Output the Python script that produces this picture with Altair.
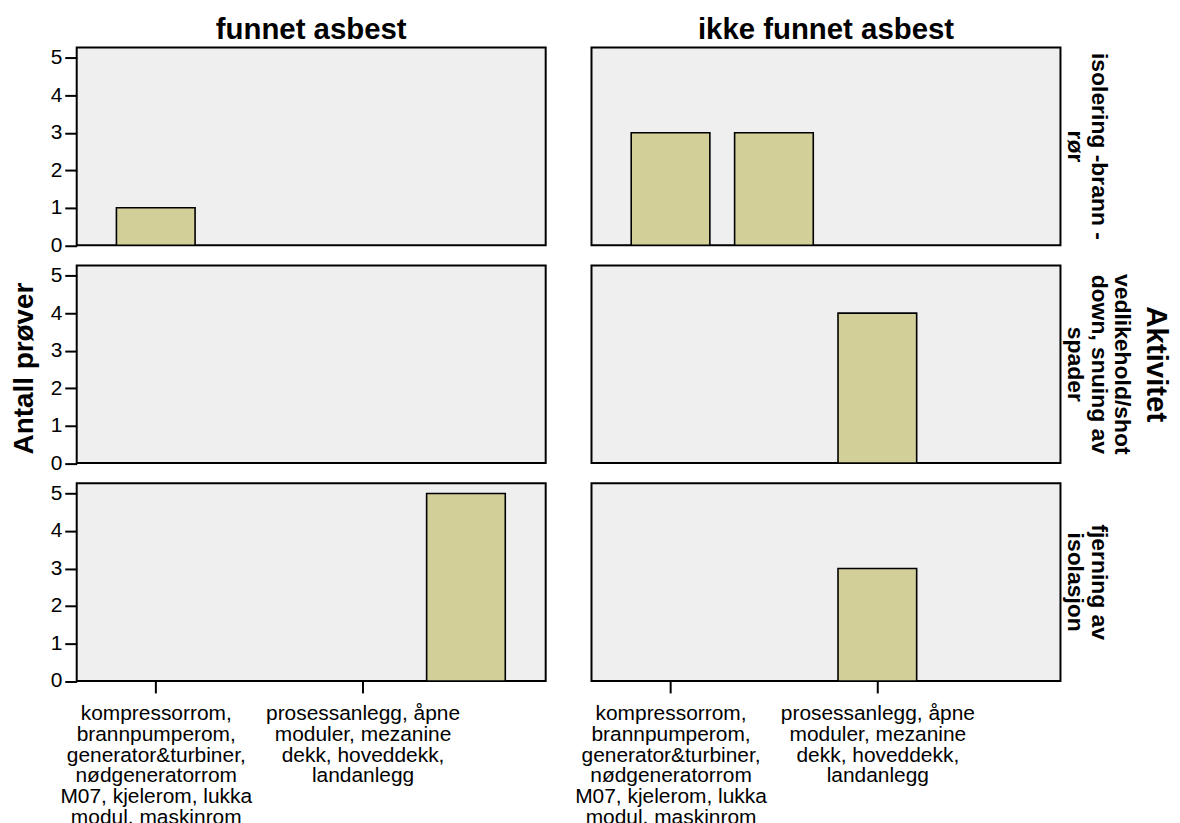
import json
import altair as alt
import pandas as pd

# ---- data ----
col_names = ["funnet asbest", "ikke funnet asbest"]
row_label_lines = [
    ["isolering -brann -", "rør"],
    ["vedlikehold/shot", "down, snuing av", "spader"],
    ["fjerning av", "isolasjon"],
]
row_names = [" ".join(lines) for lines in row_label_lines]
row_title = "Aktivitet"
y_title = "Antall prøver"
y_ticks = [0, 1, 2, 3, 4, 5]

# x slots (SPSS hides the labels of slots 2 and 4)
x_tick_slots = [1, 3]
x_tick_lines = [
    ["kompressorrom,", "brannpumperom,", "generator&turbiner,", "nødgeneratorrom",
     "M07, kjelerom, lukka", "modul, maskinrom"],
    ["prosessanlegg, åpne", "moduler, mezanine", "dekk, hoveddekk,", "landanlegg"],
]

bar_col = [col_names[0], col_names[0],
           col_names[1], col_names[1], col_names[1], col_names[1]]
bar_row = [row_names[0], row_names[2],
           row_names[0], row_names[0], row_names[1], row_names[2]]
bar_slot = [1, 4, 1, 2, 3, 3]
bar_count = [1, 5, 3, 3, 4, 3]

df = pd.DataFrame({"col": bar_col, "row": bar_row, "slot": bar_slot, "count": bar_count})

label_expr = " : ".join(
    f"datum.value == {s} ? {json.dumps(lines)}" for s, lines in zip(x_tick_slots, x_tick_lines)
) + " : ''"

FONT = "Liberation Sans"
W, H = 471, 198.5
ROW_LH = 23.5
x_scale = alt.Scale(domain=[0.2837, 4.723], nice=False, zero=False)
y_scale = alt.Scale(domain=[0, 5.27], nice=False)


def make_cell(ri, ci):
    bottom = ri == len(row_names) - 1
    left = ci == 0
    x_axis = alt.Axis(values=x_tick_slots, labelExpr=label_expr, title=None,
                      domain=False, grid=False, tickSize=12, tickWidth=2,
                      tickColor="black", labelFontSize=21, labelLineHeight=20.8,
                      labelColor="black", labelPadding=10, labelFont=FONT,
                      labelBaseline="top", labelOverlap=False, labelFlush=False,
                      labelLimit=400) if bottom else None
    y_axis = alt.Axis(values=y_ticks, title=y_title if ri == 1 else None,
                      domain=False, grid=False, tickSize=12, tickWidth=2,
                      tickColor="black", labelFontSize=21, labelColor="black",
                      labelPadding=3, labelFont=FONT, labelFlush=False,
                      titleFont=FONT, titleFontSize=28, titleFontWeight="bold",
                      titleColor="black", titleX=-52.5, titleY=103, titleAngle=270,
                      titleAlign="center", titleBaseline="middle") if left else None

    bars = alt.Chart(df).transform_filter(
        alt.FieldEqualPredicate(field="row", equal=row_names[ri])
    ).transform_filter(
        alt.FieldEqualPredicate(field="col", equal=col_names[ci])
    ).mark_bar(size=79, fill="#d3cf98", stroke="black", strokeWidth=1.6).encode(
        x=alt.X("slot:Q", scale=x_scale, axis=x_axis),
        y=alt.Y("count:Q", scale=y_scale, axis=y_axis),
    )
    layers = [bars]
    if ri == 0:
        head = alt.Chart(pd.DataFrame({"label": [col_names[ci]]})).mark_text(
            align="center", baseline="alphabetic", fontSize=29.5, fontWeight="bold",
            font=FONT, color="black"
        ).encode(text="label:N", x=alt.value(W / 2), y=alt.value(-8.2))
        layers.append(head)
    if not left:
        lines = row_label_lines[ri]
        n = len(lines)
        row_lab = alt.Chart(pd.DataFrame({"line": lines, "i": list(range(n))})).transform_calculate(
            px=f"{W + 15} + ({n - 1} - datum.i) * {ROW_LH}"
        ).mark_text(
            angle=90, align="center", baseline="middle",
            fontSize=23, fontWeight="bold", font=FONT, color="black"
        ).encode(text="line:N", x=alt.X("px:Q", scale=None), y=alt.value(H / 2))
        layers.append(row_lab)
        if ri == 1:
            act = alt.Chart(pd.DataFrame({"label": [row_title]})).mark_text(
                angle=90, align="center", baseline="middle", fontSize=29.5,
                fontWeight="bold", font=FONT, color="black"
            ).encode(text="label:N", x=alt.value(W + 96), y=alt.value(H / 2))
            layers.append(act)
    return alt.layer(*layers).properties(width=W, height=H)


cells = [make_cell(ri, ci) for ri in range(len(row_names)) for ci in range(len(col_names))]

chart = alt.concat(
    *cells, columns=2, spacing={"row": 19.8, "column": 46}, bounds="flush"
).configure_view(
    fill="#efefef", stroke="black", strokeWidth=2
).properties(
    padding={"left": 1, "top": 4, "right": 0, "bottom": 0}
)

chart.save("out.html", embed_options={"renderer": "svg", "actions": False})
